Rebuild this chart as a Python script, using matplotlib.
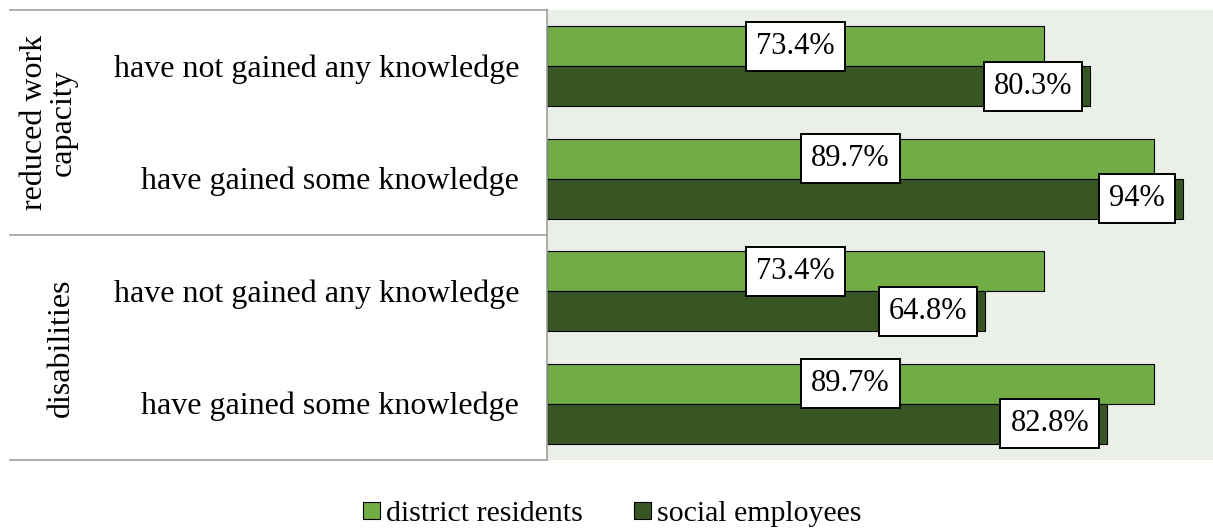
import matplotlib
matplotlib.use('Agg')
import matplotlib.pyplot as plt
from matplotlib.patches import Patch

plt.rcParams['font.family'] = ['Liberation Serif', 'DejaVu Serif']

# data
groups = ['reduced work\ncapacity', 'disabilities']
categories = ['have not gained any knowledge', 'have gained some knowledge',
              'have not gained any knowledge', 'have gained some knowledge']
residents = [73.4, 89.7, 73.4, 89.7]
employees = [80.3, 94.0, 64.8, 82.8]

c_light = '#70AD47'
c_dark = '#375623'
bg = '#EAEFE8'

W, H = 1213, 529
fig = plt.figure(figsize=(W / 100, H / 100), dpi=100)
ax = fig.add_axes([547 / W, (H - 460) / H, (W - 547) / W, 450 / H])
ax.set_facecolor(bg)

y = list(range(len(categories)))
h = 0.356
ax.barh([v - h / 2 for v in y], residents, h, color=c_light, edgecolor='black', linewidth=0.8)
ax.barh([v + h / 2 for v in y], employees, h, color=c_dark, edgecolor='black', linewidth=0.8)

ax.set_xlim(0, 98.45)
ax.set_ylim(3.5, -0.5)
ax.set_xticks([])
ax.set_yticks([])
for s in ['top', 'right', 'bottom']:
    ax.spines[s].set_visible(False)
ax.spines['left'].set_color('#A0A0A0')
ax.spines['left'].set_linewidth(1.2)

fs_lab = 22
box = dict(boxstyle='square,pad=0.33', fc='white', ec='black', lw=1.4)
for i in y:
    ax.text(residents[i] / 2, i - h / 2, f'{residents[i]:g}%', ha='center', va='center',
            fontsize=fs_lab, bbox=box)
    ax.annotate(f'{employees[i]:g}%', xy=(employees[i], i + h / 2), xytext=(-13, 0),
                textcoords='offset points', ha='right', va='center', fontsize=fs_lab, bbox=box)

# category labels and table lines on the left
fs = 23
tr = ax.get_yaxis_transform()
for i, c in enumerate(categories):
    ax.annotate(c, xy=(-0.042, i), xycoords=tr, xytext=(0, -2), textcoords='offset points',
                ha='right', va='center', fontsize=fs, annotation_clip=False)
for yy in [-0.5, 1.5, 3.5]:
    ax.plot([-537 / 666, 0], [yy, yy], transform=tr, color='#A0A0A0', lw=1.2, clip_on=False)

ax.text(-498 / 666, 0.5, groups[0], transform=tr, rotation=90, ha='center', va='center',
        fontsize=fs, linespacing=1.0, clip_on=False)
ax.text(-486 / 666, 2.5, groups[1], transform=tr, rotation=90, ha='center', va='center',
        fontsize=fs, clip_on=False)

handles = [Patch(facecolor=c_light, edgecolor='black', lw=0.8),
           Patch(facecolor=c_dark, edgecolor='black', lw=0.8)]
fig.legend(handles, ['district residents', 'social employees'], loc='center',
           bbox_to_anchor=(612 / W, 1 - 514 / H), ncol=2, frameon=False, fontsize=21.5,
           handlelength=0.57, handleheight=0.5, handletextpad=0.2, columnspacing=1.7,
           borderpad=0)

fig.savefig('out.png', dpi=100)
